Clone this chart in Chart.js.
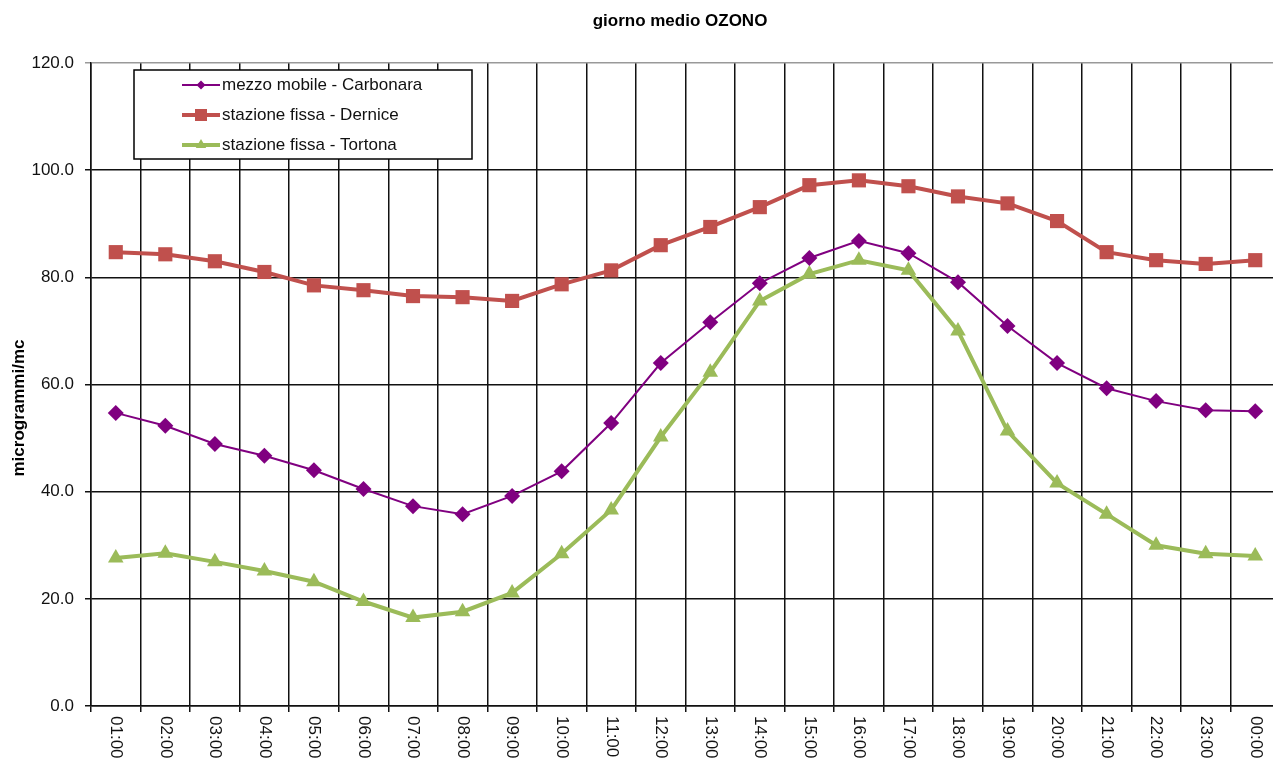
<!DOCTYPE html>
<html>
<head>
<meta charset="UTF-8">
<title>giorno medio OZONO</title>
<script src="https://cdn.jsdelivr.net/npm/chart.js@4/dist/chart.umd.min.js"></script>
<style>
  html, body { margin: 0; padding: 0; background: #fff; overflow: hidden; }
  #wrap { width: 1290px; height: 762px; }
</style>
</head>
<body>
<div id="wrap"><canvas id="chart" width="1290" height="762"></canvas></div>
<script>
// ore del giorno medio
const hours = ['01:00','02:00','03:00','04:00','05:00','06:00','07:00','08:00','09:00','10:00','11:00','12:00',
  '13:00','14:00','15:00','16:00','17:00','18:00','19:00','20:00','21:00','22:00','23:00','00:00'];

// microgrammi/mc
const carbonara = [54.7, 52.3, 48.9, 46.7, 44.0, 40.5, 37.3, 35.8, 39.2, 43.8, 52.8, 64.0,
  71.6, 78.9, 83.6, 86.8, 84.5, 79.1, 70.9, 64.0, 59.3, 56.9, 55.2, 55.0];
const dernice = [84.7, 84.3, 83.0, 81.0, 78.5, 77.6, 76.5, 76.3, 75.6, 78.7, 81.3, 86.0,
  89.4, 93.1, 97.2, 98.1, 97.0, 95.1, 93.8, 90.5, 84.7, 83.2, 82.5, 83.2];
const tortona = [27.6, 28.5, 26.9, 25.2, 23.2, 19.5, 16.5, 17.6, 21.1, 28.4, 36.6, 50.2,
  62.3, 75.6, 80.6, 83.2, 81.3, 70.0, 51.3, 41.6, 35.8, 30.0, 28.4, 28.0];

const yTicks = [0, 20, 40, 60, 80, 100, 120];

const FONT = '"Liberation Sans", Arial, sans-serif';

// small marker drawing for the legend
function drawMarker(ctx, style, x, y, r, color) {
  ctx.save();
  ctx.fillStyle = color;
  ctx.beginPath();
  if (style === 'rectRot') {
    ctx.moveTo(x - r, y); ctx.lineTo(x, y + r); ctx.lineTo(x + r, y); ctx.lineTo(x, y - r);
  } else if (style === 'rect') {
    ctx.rect(x - r, y - r, 2 * r, 2 * r);
  } else {
    ctx.moveTo(x, y - r); ctx.lineTo(x + r * 0.87, y + r * 0.5); ctx.lineTo(x - r * 0.87, y + r * 0.5);
  }
  ctx.closePath();
  ctx.fill();
  ctx.restore();
}

const extras = {
  id: 'extras',
  afterDraw(chart) {
    const ctx = chart.ctx;
    const xs = chart.scales.x;
    ctx.save();
    // title
    ctx.fillStyle = '#000';
    ctx.font = 'bold 17px ' + FONT;
    ctx.textAlign = 'center';
    ctx.textBaseline = 'middle';
    ctx.fillText('giorno medio OZONO', 680, 21);

    // y axis title
    ctx.save();
    ctx.translate(19, 408);
    ctx.rotate(-Math.PI / 2);
    ctx.fillText('microgrammi/mc', 0, 0);
    ctx.restore();

    // x labels, rotated clockwise
    ctx.font = '17px ' + FONT;
    ctx.fillStyle = '#111';
    ctx.textAlign = 'left';
    hours.forEach((h, i) => {
      ctx.save();
      ctx.translate(xs.getPixelForValue(i), 716);
      ctx.rotate(Math.PI / 2);
      ctx.fillText(h, 0, 0);
      ctx.restore();
    });

    // legend box
    ctx.fillStyle = '#fff';
    ctx.fillRect(134, 70, 338, 89);
    ctx.strokeStyle = '#000';
    ctx.lineWidth = 1.5;
    ctx.strokeRect(134, 70, 338, 89);
    const rows = [85, 115, 145];
    const markSize = [4.5, 6, 6];
    chart.data.datasets.forEach((ds, i) => {
      const y = rows[i];
      ctx.strokeStyle = ds.borderColor;
      ctx.lineWidth = ds.borderWidth;
      ctx.beginPath();
      ctx.moveTo(182, y); ctx.lineTo(220, y);
      ctx.stroke();
      drawMarker(ctx, ds.pointStyle, 201, y, markSize[i], ds.borderColor);
      ctx.fillStyle = '#111';
      ctx.font = '17px ' + FONT;
      ctx.textAlign = 'left';
      ctx.fillText(ds.label, 222, y);
    });
    ctx.restore();
  }
};

new Chart(document.getElementById('chart'), {
  type: 'line',
  data: {
    labels: hours,
    datasets: [
      { label: 'mezzo mobile - Carbonara', data: carbonara, borderColor: '#800080', backgroundColor: '#800080',
        borderWidth: 2, pointStyle: 'rectRot', pointRadius: 8, pointBorderWidth: 0, tension: 0 },
      { label: 'stazione fissa - Dernice', data: dernice, borderColor: '#C0504D', backgroundColor: '#C0504D',
        borderWidth: 4, pointStyle: 'rect', pointRadius: 10, pointBorderWidth: 0, tension: 0 },
      { label: 'stazione fissa - Tortona', data: tortona, borderColor: '#9BBB59', backgroundColor: '#9BBB59',
        borderWidth: 4, pointStyle: 'triangle', pointRadius: 9, pointBorderWidth: 0, tension: 0 }
    ]
  },
  plugins: [extras],
  options: {
    responsive: false,
    animation: false,
    events: [],
    layout: { padding: { top: 63, right: 9, left: 0, bottom: 0 } },
    plugins: { legend: { display: false }, title: { display: false }, tooltip: { enabled: false } },
    scales: {
      x: {
        offset: true,
        grid: { offset: true, color: '#111', lineWidth: 1.5, tickLength: 6 },
        border: { color: '#111', width: 1.5 },
        ticks: { display: false },
        afterFit(scale) { scale.height = 56; }
      },
      y: {
        min: 0, max: 120,
        afterBuildTicks(scale) { scale.ticks = yTicks.map(v => ({ value: v })); },
        grid: {
          color: c => (c.tick && c.tick.value === 120 ? '#999' : '#111'),
          lineWidth: 1.5, tickLength: 6
        },
        border: { color: '#111', width: 1.5 },
        ticks: {
          padding: 11, color: '#111',
          font: { family: FONT, size: 17 },
          callback: v => Number(v).toFixed(1)
        },
        afterFit(scale) { scale.width = 91; }
      }
    }
  }
});
</script>
</body>
</html>
